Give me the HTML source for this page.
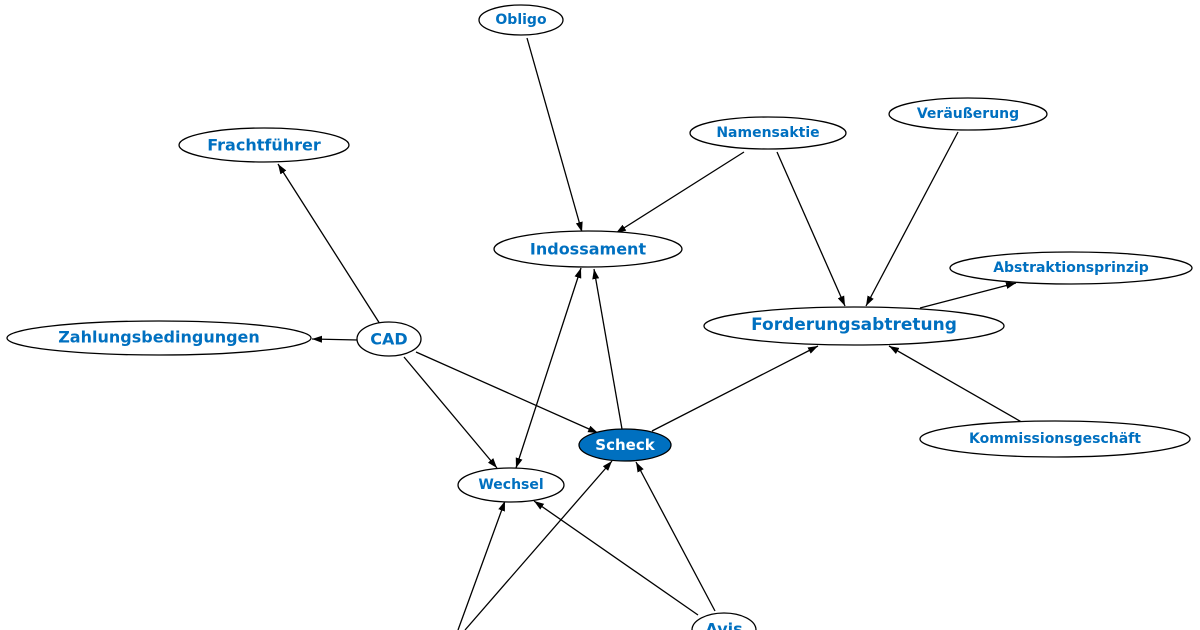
<!DOCTYPE html>
<html><head><meta charset="utf-8"><style>
html,body{margin:0;padding:0;background:#fff;width:1200px;height:630px;overflow:hidden}
text{font-family:"DejaVu Sans","Liberation Sans",sans-serif;font-weight:bold;fill:#0070c0;text-anchor:middle;dominant-baseline:central}
</style></head><body>
<svg width="1200" height="630" viewBox="0 0 1200 630" xmlns="http://www.w3.org/2000/svg">
<defs><marker id="a" viewBox="0 0 10 10" refX="10" refY="5" markerWidth="10" markerHeight="10" markerUnits="userSpaceOnUse" orient="auto"><path d="M0,1.5 L10,5 L0,8.5z" fill="#000"/></marker>
<marker id="s" viewBox="0 0 10 10" refX="0" refY="5" markerWidth="10" markerHeight="10" markerUnits="userSpaceOnUse" orient="auto"><path d="M10,1.5 L0,5 L10,8.5z" fill="#000"/></marker></defs>
<g stroke="#000" stroke-width="1.3" fill="none" marker-end="url(#a)">
<line x1="527" y1="38" x2="582" y2="232"/>
<line x1="744" y1="152" x2="616" y2="233"/>
<line x1="777" y1="152" x2="845" y2="306"/>
<line x1="958" y1="132" x2="866" y2="306"/>
<line x1="920" y1="308" x2="1016" y2="283"/>
<line x1="1025" y1="424" x2="889" y2="346"/>
<line x1="652" y1="431" x2="818" y2="346"/>
<line x1="622" y1="429" x2="594" y2="269"/>
<line x1="516" y1="468" x2="581" y2="268" marker-start="url(#s)"/>
<line x1="380" y1="324" x2="278" y2="164"/>
<line x1="358" y1="340" x2="312" y2="339"/>
<line x1="416" y1="352" x2="598" y2="433"/>
<line x1="404" y1="357" x2="497" y2="468"/>
<line x1="458" y1="630" x2="505" y2="501"/>
<line x1="465" y1="630" x2="612" y2="461"/>
<line x1="698" y1="615" x2="534" y2="501"/>
<line x1="715" y1="611" x2="636" y2="462"/>
</g>
<g stroke="#000" stroke-width="1.3" fill="#fff">
<ellipse cx="521" cy="20" rx="42" ry="15"/>
<ellipse cx="264" cy="145" rx="85" ry="17"/>
<ellipse cx="768" cy="133" rx="78" ry="16"/>
<ellipse cx="968" cy="114" rx="79" ry="16"/>
<ellipse cx="588" cy="249" rx="94" ry="18"/>
<ellipse cx="1071" cy="268" rx="121" ry="16"/>
<ellipse cx="159" cy="338" rx="152" ry="17"/>
<ellipse cx="389" cy="339" rx="32" ry="17"/>
<ellipse cx="854" cy="326" rx="150" ry="19"/>
<ellipse cx="625" cy="445" rx="46" ry="16" fill="#0070c0"/>
<ellipse cx="1055" cy="439" rx="135" ry="18"/>
<ellipse cx="511" cy="485" rx="53" ry="17"/>
<ellipse cx="724" cy="630" rx="32" ry="17"/>
</g>
<text x="521" y="20" font-size="14">Obligo</text>
<text x="264" y="145" font-size="16">Frachtführer</text>
<text x="768" y="133" font-size="14">Namensaktie</text>
<text x="968" y="114" font-size="14">Veräußerung</text>
<text x="588" y="249" font-size="16">Indossament</text>
<text x="1071" y="268" font-size="14">Abstraktionsprinzip</text>
<text x="159" y="337" font-size="16">Zahlungsbedingungen</text>
<text x="389" y="339" font-size="16">CAD</text>
<text x="854" y="325" font-size="17">Forderungsabtretung</text>
<text x="625" y="445" font-size="15" style="fill:#fff">Scheck</text>
<text x="1055" y="439" font-size="14">Kommissionsgeschäft</text>
<text x="511" y="485" font-size="14">Wechsel</text>
<text x="724" y="629" font-size="16">Avis</text>
</svg>
</body></html>
